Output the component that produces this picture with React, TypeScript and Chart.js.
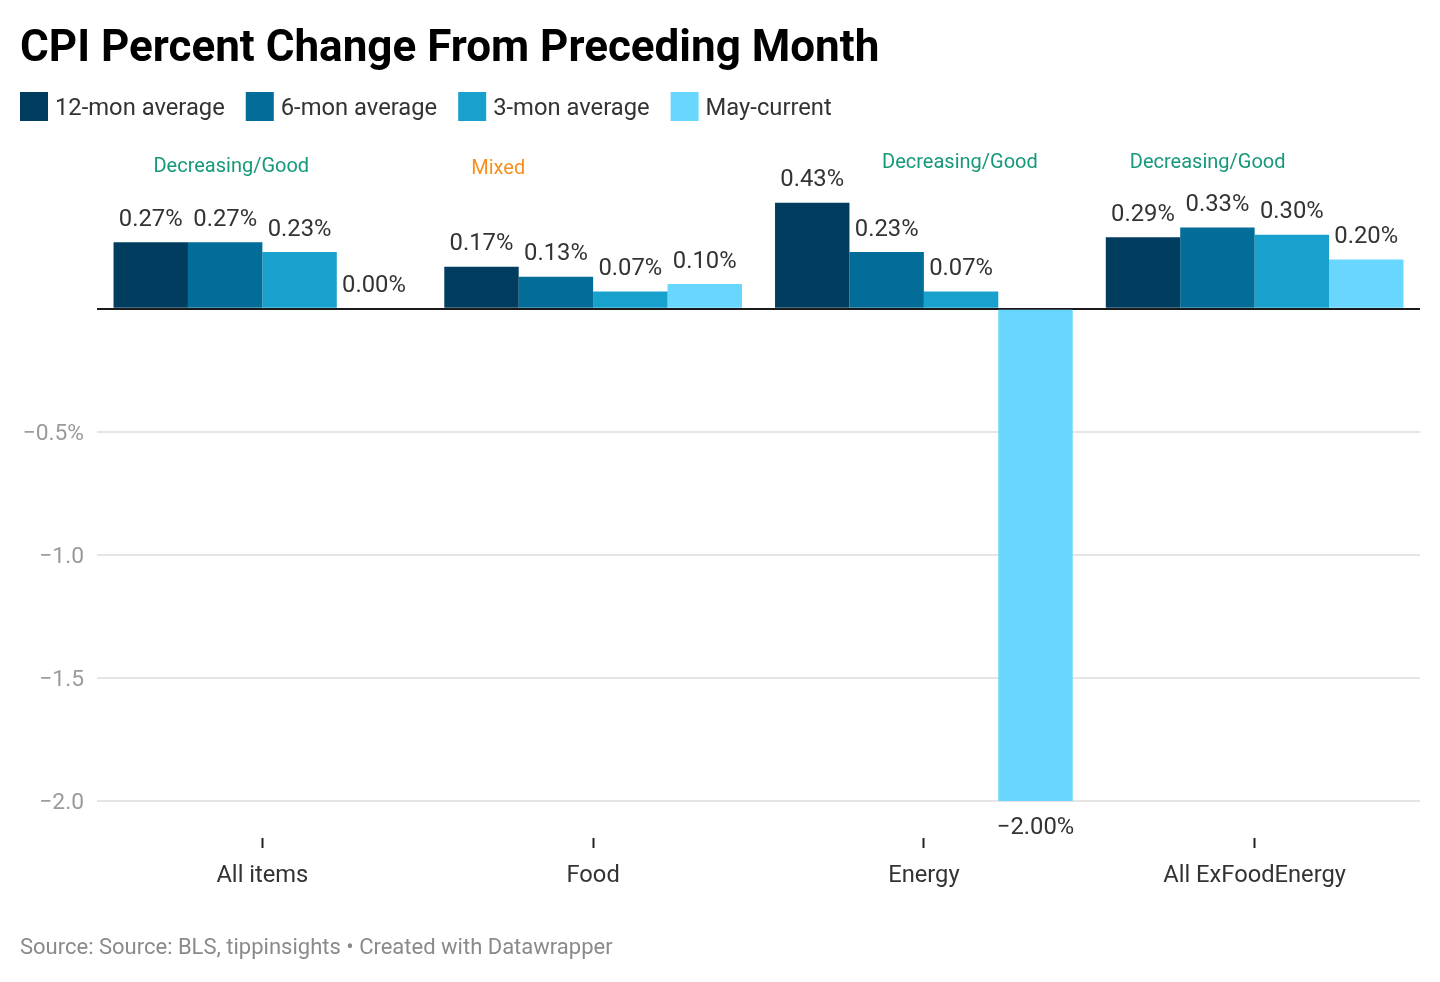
import React, { useEffect, useRef } from 'react';
import { Chart, registerables } from 'chart.js';

Chart.register(...registerables);

// ---------- data ----------
const titleText = 'CPI Percent Change From Preceding Month';
const footerText = 'Source: Source: BLS, tippinsights \u2022 Created with Datawrapper';
const categories = ['All items', 'Food', 'Energy', 'All ExFoodEnergy'];
const seriesNames = ['12-mon average', '6-mon average', '3-mon average', 'May-current'];
const avg12 = [0.27, 0.17, 0.43, 0.29];
const avg6 = [0.27, 0.13, 0.23, 0.33];
const avg3 = [0.23, 0.07, 0.07, 0.3];
const mayCurrent = [0.0, 0.1, -2.0, 0.2];
const yTicks = [-2, -1.5, -1, -0.5, 0];
const annotationTexts = ['Decreasing/Good', 'Mixed', 'Decreasing/Good', 'Decreasing/Good'];
const annotationKinds = ['good', 'mixed', 'good', 'good'];

// ---------- styles / layout config ----------
const seriesColors = ['#003d5f', '#026d98', '#19a1cd', '#68d6fd'];
const annotationColors: Record<string, string> = { good: '#16997a', mixed: '#f5901c' };
// annotation anchor: offset from category centre (fraction of category width), baseline value
const annotationDx = [-0.094, -0.287, 0.109, -0.142];
const annotationY = [0.557, 0.549, 0.573, 0.573];
const FONT = 'Roboto, "Noto Sans", sans-serif';
const TEXT = '#333333';

const minus = (s: string) => s.replace('-', '\u2212');

const overlayPlugin = {
  id: 'overlay',
  afterDatasetsDraw(chart: any) {
    const ctx = chart.ctx as CanvasRenderingContext2D;
    ctx.save();
    // data labels
    ctx.font = `23.8px ${FONT}`;
    ctx.fillStyle = TEXT;
    ctx.textAlign = 'center';
    ctx.textBaseline = 'alphabetic';
    chart.data.datasets.forEach((ds: any, di: number) => {
      const meta = chart.getDatasetMeta(di);
      meta.data.forEach((bar: any, i: number) => {
        const v = ds.data[i] as number;
        const label = minus(v.toFixed(2)) + '%';
        if (v >= 0) {
          ctx.fillText(label, bar.x, Math.min(bar.y, bar.base) - 16.5);
        } else {
          ctx.fillText(label, bar.x, Math.max(bar.y, bar.base) + 33);
        }
      });
    });
    // annotations
    const xs = chart.scales.x;
    const ys = chart.scales.y;
    const catW = (xs.right - xs.left) / categories.length;
    ctx.font = `20px ${FONT}`;
    annotationTexts.forEach((t, i) => {
      ctx.fillStyle = annotationColors[annotationKinds[i]];
      const x = xs.getPixelForValue(i) + annotationDx[i] * catW;
      const y = ys.getPixelForValue(annotationY[i]);
      ctx.fillText(t, x, y);
    });
    ctx.restore();
  },
  afterDraw(chart: any) {
    const ctx = chart.ctx as CanvasRenderingContext2D;
    ctx.save();
    ctx.textAlign = 'left';
    ctx.textBaseline = 'alphabetic';
    // title
    ctx.font = `bold 44px ${FONT}`;
    ctx.fillStyle = '#000000';
    ctx.fillText(titleText, 20, 61);
    // legend
    ctx.font = `23.75px ${FONT}`;
    let x = 20;
    seriesNames.forEach((name, i) => {
      ctx.fillStyle = seriesColors[i];
      ctx.fillRect(x, 92, 28, 29);
      ctx.fillStyle = TEXT;
      ctx.fillText(name, x + 35, 114.5);
      x += 35 + ctx.measureText(name).width + 21;
    });
    // footer
    ctx.font = `22px ${FONT}`;
    ctx.fillStyle = '#8a8a8a';
    ctx.fillText(footerText, 20, 954);
    ctx.restore();
  },
};

export default function App() {
  const canvasRef = useRef<HTMLCanvasElement | null>(null);

  useEffect(() => {
    const canvas = canvasRef.current;
    if (!canvas) return;
    const chart = new Chart(canvas, {
      type: 'bar',
      data: {
        labels: categories,
        datasets: [avg12, avg6, avg3, mayCurrent].map((d, i) => ({
          label: seriesNames[i],
          data: d,
          backgroundColor: seriesColors[i],
          borderWidth: 0,
          categoryPercentage: 0.9,
          barPercentage: 1.0,
        })),
      },
      options: {
        responsive: false,
        animation: false,
        layout: { padding: { left: 0, right: 20, top: 161, bottom: 0 } },
        plugins: {
          legend: { display: false },
          title: { display: false },
          tooltip: { enabled: false },
        },
        scales: {
          x: {
            afterFit: (s: any) => {
              s.height = 144;
            },
            border: { display: false },
            grid: {
              display: true,
              drawOnChartArea: false,
              drawTicks: true,
              tickLength: 10,
              tickColor: '#222222',
              tickWidth: 2,
              offset: false,
            },
            ticks: {
              padding: 14,
              color: TEXT,
              font: { family: FONT, size: 23.7 },
              maxRotation: 0,
            },
          },
          y: {
            min: -2.15,
            max: 0.6,
            afterFit: (s: any) => {
              s.width = 97;
            },
            afterBuildTicks: (s: any) => {
              s.ticks = yTicks.map((v) => ({ value: v }));
            },
            border: { display: false },
            grid: {
              drawTicks: false,
              color: (c: any) => (c.tick && c.tick.value === 0 ? '#1a1a1a' : '#e5e5e5'),
              lineWidth: 2,
            },
            ticks: {
              padding: 13,
              labelOffset: 2.5,
              color: '#9a9a9a',
              font: { family: FONT, size: 22.8 },
              callback: (v: any) => {
                const n = Number(v);
                if (n === 0) return '';
                const top = Math.max(...yTicks.filter((t) => t !== 0));
                const s = minus(n.toFixed(1));
                return n === top ? s + '%' : s;
              },
            },
          },
        },
      },
      plugins: [overlayPlugin],
    } as any);
    return () => chart.destroy();
  }, []);

  return (
    <div style={{ position: 'absolute', left: 0, top: 0, width: 1440, height: 982, background: '#fff' }}>
      <canvas ref={canvasRef} width={1440} height={982} style={{ display: 'block', width: 1440, height: 982 }} />
    </div>
  );
}
